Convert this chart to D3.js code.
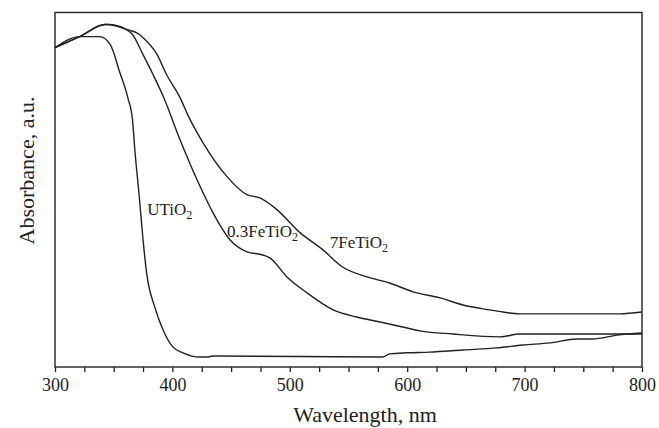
<!DOCTYPE html>
<html>
<head>
<meta charset="utf-8">
<script src="https://cdn.jsdelivr.net/npm/d3@7"></script>
<style>
  body { margin: 0; background: #fff; }
  text { font-family: "Liberation Serif", "Times New Roman", serif; fill: #222; }
</style>
</head>
<body>
<div id="chart"></div>
<script>
// UV-vis spectra, values (absorbance in arbitrary units)
var uTiO2 = [
  [300, 0.901], [321, 0.932], [338, 0.932], [347, 0.910], [355, 0.833], [362, 0.760],
  [366, 0.698], [368, 0.613], [372, 0.472], [375, 0.359], [378, 0.266], [385, 0.169],
  [392, 0.105], [400.5, 0.056], [409, 0.040], [423.5, 0.028], [429.5, 0.028], [434.6, 0.031],
  [579, 0.028], [585, 0.037], [600, 0.040], [619, 0.042], [647.5, 0.048], [676.5, 0.054],
  [698.6, 0.062], [721.6, 0.068], [744.6, 0.079], [758, 0.079], [778.7, 0.090], [800, 0.096]
];
var fe03TiO2 = [
  [300, 0.901], [321, 0.932], [342.6, 0.966], [345, 0.966], [361, 0.952], [366, 0.938],
  [375, 0.881], [383.5, 0.825], [392, 0.765], [406.5, 0.641], [421, 0.528],
  [434.6, 0.435], [449, 0.359], [463.5, 0.325], [477, 0.316], [483, 0.308], [497.6, 0.254],
  [514.7, 0.209], [537, 0.161], [557, 0.141], [577, 0.127], [600, 0.110], [611, 0.102],
  [639, 0.093], [679, 0.085], [696, 0.093], [800, 0.093]
];
var fe7TiO2 = [
  [300, 0.901], [321, 0.932], [342.6, 0.966], [345, 0.966], [361, 0.952], [372, 0.938],
  [375, 0.929], [387, 0.881], [395, 0.825], [406.5, 0.760], [413, 0.712], [426, 0.633],
  [446.5, 0.537], [463.5, 0.486], [474.6, 0.477], [489, 0.444], [508.7, 0.379], [528, 0.331],
  [545, 0.282], [566, 0.254], [585, 0.237], [605, 0.212], [628, 0.195], [647.5, 0.175],
  [670.5, 0.161], [681.6, 0.155], [696, 0.150], [781, 0.150], [800, 0.155]
];
var xTickLabels = [300, 400, 500, 600, 700, 800];
var seriesLabels = [
  { name: "UTiO", x: 378.5, y: 0.43 },
  { name: "0.3FeTiO", x: 446.5, y: 0.367 },
  { name: "7FeTiO", x: 534, y: 0.336 }
];

var W = 659, H = 428;
var margin = {top: 12.5, right: 17, bottom: 61, left: 55},
    width = W - margin.left - margin.right,
    height = H - margin.top - margin.bottom;

var svg = d3.select("#chart")
  .append("svg")
    .attr("width", W)
    .attr("height", H)
  .append("g")
    .attr("transform", "translate(" + margin.left + "," + margin.top + ")");

var x = d3.scaleLinear().domain([300, 800]).range([0, width]);
var y = d3.scaleLinear().domain([0, 1]).range([height, 0]);

// frame
svg.append("rect")
  .attr("x", 0).attr("y", 0)
  .attr("width", width).attr("height", height)
  .attr("fill", "none")
  .attr("stroke", "#222")
  .attr("stroke-width", 1.4);

// x axis: ticks every 25 nm, labels every 100
var xAxis = svg.append("g")
  .attr("transform", "translate(0," + height + ")")
  .call(d3.axisBottom(x)
    .tickValues(d3.range(300, 801, 25))
    .tickSize(5)
    .tickPadding(6)
    .tickFormat(function(d) { return xTickLabels.indexOf(d) >= 0 ? d : ""; }));
xAxis.select(".domain").remove();
xAxis.selectAll("line").attr("stroke", "#222").attr("stroke-width", 1.3);
xAxis.selectAll("text")
  .style("font-family", "'Liberation Serif', serif")
  .style("font-size", "18px")
  .attr("fill", "#222");

// axis titles
svg.append("text")
  .attr("x", 310)
  .attr("y", height + 55)
  .attr("text-anchor", "middle")
  .style("font-size", "22px")
  .text("Wavelength, nm");

svg.append("text")
  .attr("transform", "translate(-21," + 158 + ") rotate(-90)")
  .attr("text-anchor", "middle")
  .style("font-size", "22px")
  .text("Absorbance, a.u.");

// curves
var line = d3.line()
  .x(function(d) { return x(d[0]); })
  .y(function(d) { return y(d[1]); })
  .curve(d3.curveMonotoneX);

[uTiO2, fe03TiO2, fe7TiO2].forEach(function(s) {
  svg.append("path")
    .datum(s)
    .attr("d", line)
    .attr("fill", "none")
    .attr("stroke", "#222")
    .attr("stroke-width", 1.4);
});

// curve labels with subscript 2
seriesLabels.forEach(function(l) {
  var t = svg.append("text")
    .attr("x", x(l.x))
    .attr("y", y(l.y))
    .style("font-size", "17px");
  t.append("tspan").text(l.name);
  t.append("tspan").attr("dy", 4).style("font-size", "12px").text("2");
});
</script>
</body>
</html>
